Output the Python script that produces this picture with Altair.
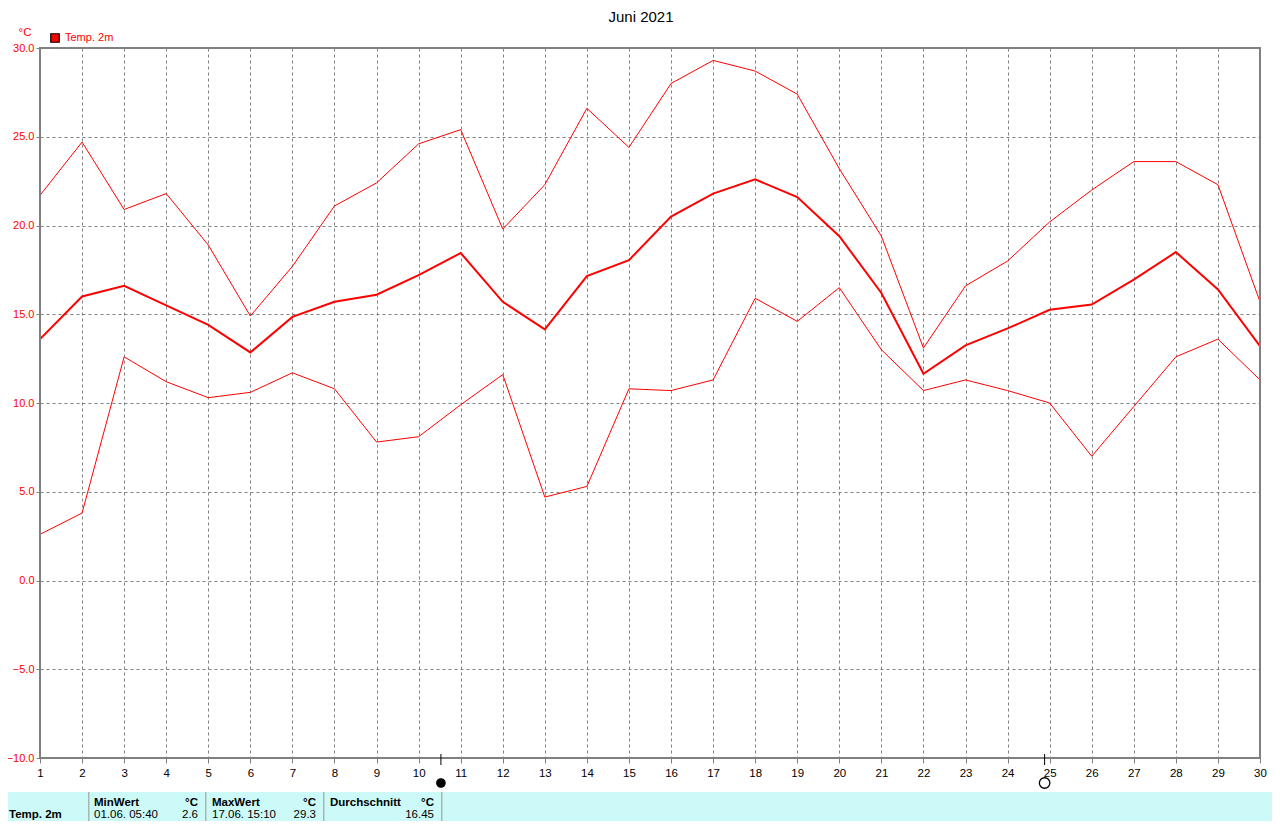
import altair as alt
import pandas as pd

days = list(range(1, 31))
t_max = [21.7, 24.7, 20.9, 21.8, 18.9, 14.9, 17.7, 21.1, 22.4, 24.6, 25.4, 19.8, 22.3, 26.6, 24.4,
         28.0, 29.3, 28.7, 27.4, 23.2, 19.4, 13.1, 16.6, 18.0, 20.2, 22.0, 23.6, 23.6, 22.3, 15.7]
t_mean = [13.6, 16.0, 16.6, 15.5, 14.4, 12.85, 14.85, 15.7, 16.1, 17.2, 18.45, 15.7, 14.15, 17.15, 18.05,
          20.5, 21.8, 22.6, 21.6, 19.4, 16.2, 11.65, 13.25, 14.2, 15.25, 15.55, 16.95, 18.5, 16.4, 13.2]
t_min = [2.6, 3.8, 12.6, 11.2, 10.3, 10.6, 11.7, 10.8, 7.8, 8.1, 9.9, 11.6, 4.7, 5.3, 10.8,
         10.7, 11.3, 15.9, 14.6, 16.5, 13.0, 10.7, 11.3, 10.7, 10.0, 7.0, 9.8, 12.6, 13.6, 11.3]
y_ticks = [-10, -5, 0, 5, 10, 15, 20, 25, 30]
moon_new = 10.53
moon_full = 24.88

FONT = "Liberation Sans"
X0, Y0 = 40, 48  # plot-area origin on the page
PANEL = "#CCFAF8"
ROW1, ROW2 = 803, 815

xs = alt.Scale(domain=[1, 30], nice=False, zero=False)
ys = alt.Scale(domain=[-10, 30], nice=False, zero=False)
df = pd.DataFrame({"day": days, "max": t_max, "mean": t_mean, "min": t_min})

base = alt.Chart(df).encode(
    x=alt.X("day:Q", scale=xs, title=None,
            axis=alt.Axis(values=days, format="d", labelColor="black", labelFont=FONT, labelFontSize=11.5,
                          labelPadding=4, labelFlush=False, labelOverlap=False, tickSize=5, tickColor="#808080",
                          grid=True, gridColor="#808080", gridDash=[3, 3], gridWidth=1,
                          domain=False)))

def series(col, width):
    return base.mark_line(color="#FF0000", strokeWidth=width, interpolate="linear", clip=True).encode(
        y=alt.Y(f"{col}:Q", scale=ys, title=None,
                axis=alt.Axis(values=y_ticks, format=".1f", labelColor="#FF0000", labelFont=FONT,
                              labelFontSize=11, labelPadding=2, labelFlush=False, tickSize=4, tickColor="#808080",
                              grid=True, gridColor="#808080", gridDash=[3, 3], gridWidth=1,
                              domain=False)))

def text(t, px, py, color="black", size=11.5, align="left", bold=False):
    return alt.Chart(pd.DataFrame({"t": [t]})).mark_text(
        color=color, fontSize=size, align=align, baseline="middle", font=FONT,
        fontWeight="bold" if bold else "normal").encode(
        text="t:N", x=alt.value(px - X0), y=alt.value(py - Y0))

def box(x1, y1, x2, y2, color):
    return alt.Chart(pd.DataFrame({"a": [0]})).mark_rect(color=color).encode(
        x=alt.value(x1 - X0), x2=alt.value(x2 - X0), y=alt.value(y1 - Y0), y2=alt.value(y2 - Y0))

moons = pd.DataFrame({"d": [moon_new, moon_full], "fill": ["black", "white"], "s": [70, 110]})
moon_ticks = alt.Chart(moons).mark_rule(color="black", strokeWidth=1).encode(
    x=alt.X("d:Q", scale=xs), y=alt.value(710 - 4), y2=alt.value(717))
moon_marks = alt.Chart(moons).mark_point(shape="circle", stroke="black", strokeWidth=1.3, opacity=1).encode(
    x=alt.X("d:Q", scale=xs), y=alt.value(783 - Y0),
    fill=alt.Fill("fill:N", scale=None), size=alt.Size("s:Q", scale=None))

legend_mark = alt.Chart(pd.DataFrame({"a": ["Temp. 2m"]})).mark_point(
    shape="square", size=72, filled=True, fill="#FF0000", stroke="black", strokeWidth=1.2, opacity=1).encode(
    x=alt.value(55 - X0), y=alt.value(38 - Y0))

frame = [box(39, 47, 1261, 49, "#808080"), box(39, 757, 1261, 759, "#808080"),
         box(39, 47, 41, 759, "#808080"), box(1259, 47, 1261, 759, "#808080")]

panel = [box(0, 792, 1280, 829, PANEL)] + [box(x, 792, x + 1.5, 829, "#A9B4B4") for x in (88, 205, 323, 441)]

labels = [
    text("Juni 2021", 641, 17, size=15, align="center"),
    text("°C", 25, 33, color="#FF0000", size=11.5, align="center"),
    text("Temp. 2m", 65, 38, color="#FF0000", size=11),
    text("Temp. 2m", 9, ROW2, bold=True),
    text("MinWert", 94, ROW1, bold=True),
    text("°C", 198, ROW1, align="right", bold=True),
    text("01.06.  05:40", 94, ROW2),
    text("2.6", 198, ROW2, align="right"),
    text("MaxWert", 212, ROW1, bold=True),
    text("°C", 316, ROW1, align="right", bold=True),
    text("17.06.  15:10", 212, ROW2),
    text("29.3", 316, ROW2, align="right"),
    text("Durchschnitt", 330, ROW1, bold=True),
    text("°C", 434, ROW1, align="right", bold=True),
    text("16.45", 434, ROW2, align="right"),
]

chart = alt.layer(
    series("max", 1), series("min", 1), series("mean", 2),
    *frame, moon_ticks, moon_marks, legend_mark, *panel, *labels
).properties(
    width=1220, height=710,
    padding={"left": 32, "top": 40, "right": 12, "bottom": 63},
    autosize=alt.AutoSizeParams(type="none"),
    background="white",
).configure_view(stroke=None).configure_axis(labelFontWeight="normal")

chart.save("out.html", embed_options={"renderer": "svg", "actions": False})
